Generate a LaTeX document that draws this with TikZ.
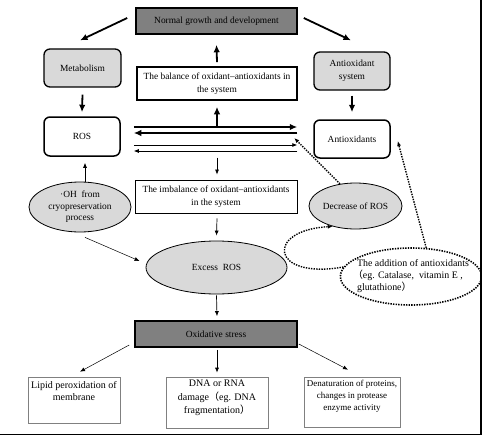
\documentclass[tikz,border=0pt]{standalone}
\usepackage{fontspec}
\setmainfont{Liberation Serif}
\newfontfamily\cjk{Noto Sans CJK SC}
\usetikzlibrary{arrows.meta,shapes.geometric}
\definecolor{darkbox}{RGB}{128,128,128}
\definecolor{lightbox}{RGB}{217,217,217}
\tikzset{
  txt/.style={font=\fontsize{9.4}{12.5}\selectfont, align=center},
  sqbox/.style={draw, txt, inner sep=2pt},
  rbox/.style={draw, txt, rounded corners=6pt, line width=1.5pt},
  ell/.style={draw, ellipse, txt, fill=lightbox, line width=0.8pt, inner sep=0pt},
  lowbox/.style={draw=gray, line width=0.6pt, inner sep=0pt},
  bigarr/.style={line width=1.8pt, -{Latex[length=7.5pt,width=6.5pt]}},
  thinarr/.style={line width=0.7pt, -{Latex[length=5pt,width=4pt]}},
  dotarr/.style={line width=1.4pt, dash pattern=on 1.4pt off 1.2pt, -{Latex[length=5pt,width=4pt]}},
}
\begin{document}
\begin{tikzpicture}[x=1pt,y=-1pt]
\useasboundingbox (0,0) rectangle (482,436);
\node[sqbox, fill=darkbox, line width=1.6pt, minimum width=161pt, minimum height=26pt] (norm) at (216.5,21) {Normal growth and development};
\node[rbox, fill=lightbox, line width=1.3pt, minimum width=77pt, minimum height=38pt] (meta) at (82.5,68) {Metabolism};
\node[rbox, fill=lightbox, line width=1.3pt, minimum width=76pt, minimum height=38pt] (asys) at (352,71) {Antioxidant\\system};
\node[sqbox, line width=1.6pt, minimum width=160pt, minimum height=33pt] (bal) at (217,83.5) {The balance of oxidant--antioxidants in\\the system};
\node[rbox, minimum width=76pt, minimum height=39pt] (ros) at (82,136.5) {ROS};
\node[rbox, minimum width=76pt, minimum height=38pt] (aox) at (352,139) {Antioxidants};
\node[sqbox, line width=0.8pt, minimum width=162pt, minimum height=33pt] (imb) at (216,196.5) {The imbalance of oxidant--antioxidants\\in the system};
\node[ell, font=\fontsize{9.4}{11.5}\selectfont, minimum width=102pt, minimum height=50pt] (oh) at (80,207) {·OH\ \ from\\cryopreservation\\process};
\node[ell, minimum width=93pt, minimum height=46pt] (dec) at (355.5,206) {Decrease of ROS};
\node[ell, minimum width=141pt, minimum height=53pt] (exc) at (216.5,267.5) {Excess\ \ ROS};
\node[ell, fill=white, line width=1.6pt, dash pattern=on 1.4pt off 1.2pt, font=\fontsize{9.9}{12}\selectfont, inner xsep=-8pt, minimum width=136pt, minimum height=57pt, align=left] (add) at (411,276.5) {\hspace*{4pt}The addition of antioxidants\\{\cjk （}eg. Catalase,\ \ vitamin E ,\\\hspace*{4pt}glutathione{\cjk ）}};
\node[sqbox, fill=darkbox, line width=1.6pt, minimum width=162pt, minimum height=26pt] (oxs) at (216,334) {Oxidative stress};
\node[lowbox] (lip) at (74,400) {\parbox[c][46pt][t]{92pt}{\centering\fontsize{10}{12.5}\selectfont\vspace*{4pt}Lipid peroxidation of\\membrane}};
\node[lowbox] (dna) at (217,402.5) {\parbox[c][51pt][t]{102pt}{\centering\fontsize{10}{13.5}\selectfont\vspace*{3pt}DNA or RNA\\damage{\cjk （}eg. DNA\\fragmentation{\cjk ）}}};
\node[lowbox] (den) at (352,402) {\parbox[c][50pt][t]{96pt}{\centering\fontsize{9}{12}\selectfont\vspace*{3pt}Denaturation of proteins,\\changes in protease\\enzyme activity}};

\draw[bigarr] ([xshift=-8pt,yshift=3pt]norm.west) -- ([xshift=-2.5pt,yshift=8pt]meta.north);
\draw[bigarr] ([xshift=6pt,yshift=3pt]norm.east) -- ([xshift=-1pt,yshift=11pt]asys.north);
\draw[bigarr] ([yshift=4pt]bal.north) -- ([yshift=-10pt]norm.south);
\draw[bigarr] ([yshift=-25pt]bal.south) -- ([yshift=-6pt]bal.south);
\draw[bigarr] ([yshift=-7pt]meta.south) -- ([yshift=4pt]ros.north);
\draw[bigarr] ([yshift=-5pt]asys.south) -- ([yshift=7pt]aox.north);
\draw[bigarr] ([xshift=13pt,yshift=9.5pt]ros.east) -- ([xshift=-16pt,yshift=12pt]aox.west);
\draw[bigarr] ([xshift=-16pt,yshift=6pt]aox.west) -- ([xshift=13pt,yshift=3.5pt]ros.east);
\draw[thinarr] ([xshift=13pt,yshift=-8.5pt]ros.east) -- ([xshift=-16pt,yshift=-6pt]aox.west);
\draw[thinarr] ([xshift=-16pt,yshift=-12pt]aox.west) -- ([xshift=13pt,yshift=-14.5pt]ros.east);
\draw[thinarr] ([xshift=1pt,yshift=22pt]imb.north) -- ([xshift=1pt,yshift=5pt]imb.north);
\draw[thinarr] ([xshift=1pt,yshift=-5pt]imb.south) -- ([yshift=5pt]exc.north);
\draw[thinarr] ([xshift=5pt]oh.north) -- ([xshift=3pt,yshift=-6pt]ros.south);
\draw[thinarr, line width=0.5pt] ([xshift=5pt,yshift=-5pt]oh.south) -- ([xshift=-6pt,yshift=6.5pt]exc.west);
\draw[thinarr] ([yshift=-1pt]exc.south) -- ([xshift=1pt,yshift=4pt]oxs.north);
\draw[thinarr, line width=0.5pt] ([xshift=-5pt,yshift=-11pt]oxs.west) -- ([xshift=6pt,yshift=5pt]lip.north);
\draw[thinarr] ([xshift=1pt,yshift=-2pt]oxs.south) -- ([yshift=4pt]dna.north);
\draw[thinarr, line width=0.5pt] ([xshift=1pt,yshift=-10pt]oxs.east) -- ([xshift=-4pt,yshift=7pt]den.north);
\draw[dotarr] (dec.125) -- ([xshift=-19pt,yshift=1pt]aox.west);
\draw[dotarr] (add.62) -- ([xshift=7pt,yshift=-2pt]aox.east);
\draw[dotarr] (add.172) .. controls (270,280) and (265,230) .. (dec.222);

\draw[line width=1.2pt] (0,434.5) -- (481,434.5) -- (481,0);
\end{tikzpicture}
\end{document}
